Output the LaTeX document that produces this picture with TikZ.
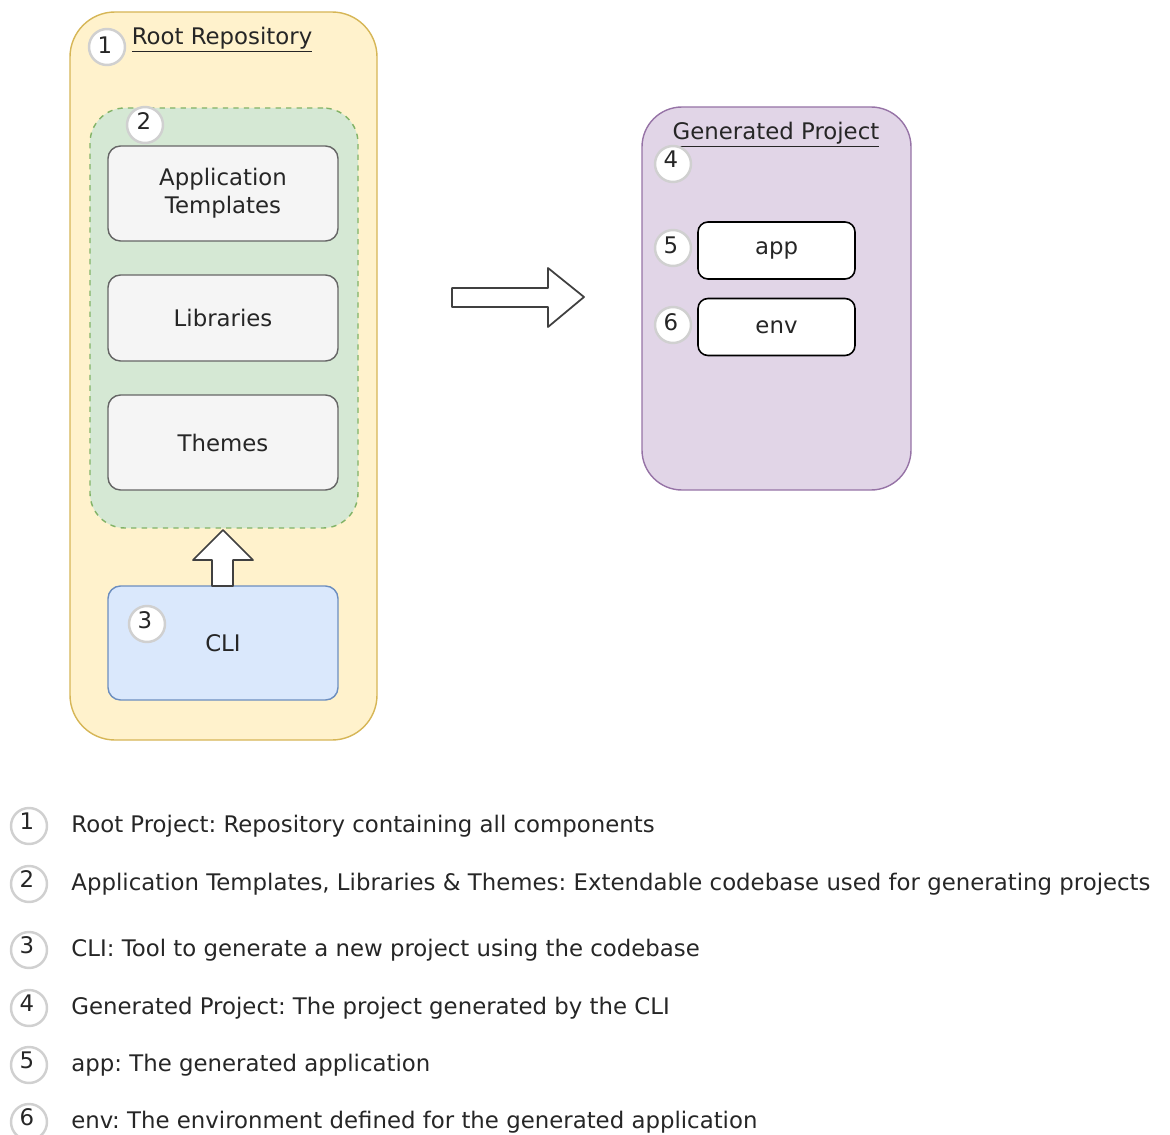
\documentclass[tikz,border=0pt]{standalone}
\usepackage{fontspec}
\setmainfont{DejaVu Sans}
\usetikzlibrary{positioning}

\definecolor{rootfill}{HTML}{FFF2CC}
\definecolor{rootline}{HTML}{D6B656}
\definecolor{libfill}{HTML}{D5E8D4}
\definecolor{libline}{HTML}{82B366}
\definecolor{boxfill}{HTML}{F5F5F5}
\definecolor{boxline}{HTML}{666666}
\definecolor{clifill}{HTML}{DAE8FC}
\definecolor{cliline}{HTML}{6C8EBF}
\definecolor{genfill}{HTML}{E1D5E7}
\definecolor{genline}{HTML}{9673A6}
\definecolor{numline}{HTML}{D0D0D0}

\frenchspacing
\begin{document}
\begin{tikzpicture}[x=0.02cm, y=-0.02cm,
  every node/.style={font=\fontsize{13}{16}\selectfont, text=black!85},
  group/.style={draw, line width=0.8pt, rounded corners=0.9cm},
  item/.style={draw=boxline, fill=boxfill, line width=0.8pt, rounded corners=0.25cm,
    minimum width=230*0.02cm, align=center},
  leaf/.style={draw=black, fill=white, line width=0.9pt, rounded corners=0.2cm,
    minimum width=157*0.02cm, minimum height=57*0.02cm},
  num/.style={circle, draw=numline, fill=white, line width=1.4pt, minimum size=0.72cm,
    inner sep=0pt},
  fat/.style={draw=black!75, fill=white, line width=1pt, line join=round}]

\useasboundingbox (0,0) rectangle (1170,1135);

% root repository
\node[group, draw=rootline, fill=rootfill, minimum width=307*0.02cm, minimum height=728*0.02cm]
  (root) at (223.5,376) {};
\node (roottitle) at (222,40) {\underline{Root Repository}};
\node[num] (n1) at (107,47) {};
\node at (105,45) {1};

% codebase
\node[group, draw=libline, fill=libfill, dashed, rounded corners=0.7cm,
  minimum width=268*0.02cm, minimum height=420*0.02cm] (codebase) at (224,318) {};
\node[num] (n2) at (145,125) {};
\node at (144,121) {2};
\node[item, minimum height=95*0.02cm] (templates) at (223,193.5) {Application\\Templates};
\node[item, minimum height=86*0.02cm] (libs) at (223,318) {Libraries};
\node[item, minimum height=95*0.02cm] (themes) at (223,442.5) {Themes};

% cli
\node[item, draw=cliline, fill=clifill, minimum height=114*0.02cm] (cli) at (223,643) {CLI};
\node[num] (n3) at (147,624) {};
\node at (145,620) {3};

\draw[fat] (212,586) -- (212,560) -- (193,560) -- (223,530) -- (253,560) -- (233,560)
  -- (233,586) -- cycle;

% generated project
\draw[fat] (452,288) -- (548,288) -- (548,268) -- (584,297) -- (548,327) -- (548,307)
  -- (452,307) -- cycle;

\node[group, draw=genline, fill=genfill, rounded corners=0.8cm,
  minimum width=269*0.02cm, minimum height=383*0.02cm] (gen) at (776.5,298.5) {};
\node (gentitle) at (776,135) {\underline{Generated Project}};
\node[num] (n4) at (673,164) {};
\node at (671,159) {4};
\node[leaf] (app) at (776.5,250.5) {app};
\node[leaf] (env) at (776.5,327) {env};
\node[num] (n5) at (673,248) {};
\node at (671,245) {5};
\node[num] (n6) at (673,325) {};
\node at (671,322) {6};

% legend
\foreach \n/\y/\t in {
  1/824/{Root Project: Repository containing all components},
  2/882/{Application Templates, Libraries \& Themes: Extendable codebase used for generating projects},
  3/948/{CLI: Tool to generate a new project using the codebase},
  4/1006/{Generated Project: The project generated by the CLI},
  5/1063/{app: The generated application},
  6/1120/{env: The environment defined for the generated application}}
{
  \node[num] (l\n) at (29,\y+2) {};
  \node at (27,\y-3) {\n};
  \node[anchor=west, right=0.34cm of l\n] {\t};
}
\end{tikzpicture}
\end{document}
